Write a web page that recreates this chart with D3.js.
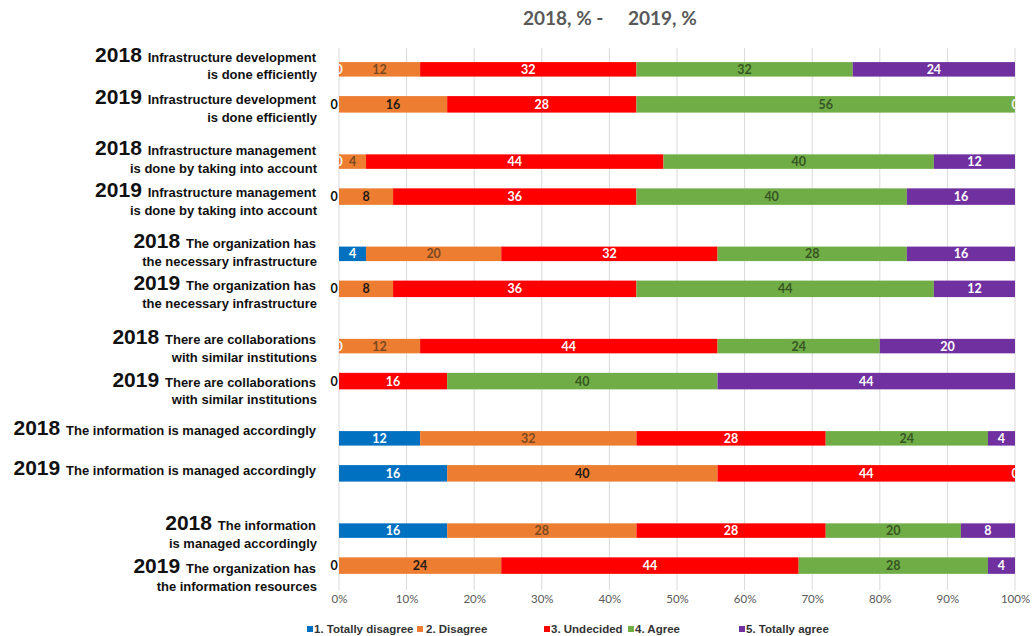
<!DOCTYPE html>
<html>
<head>
<meta charset="utf-8">
<script src="https://cdn.jsdelivr.net/npm/d3@7"></script>
<style>
  html, body { margin: 0; padding: 0; background: #fff; }
  svg { display: block; }
</style>
</head>
<body>
<svg id="chart" width="1032" height="636"></svg>
<script>
// ---------------- DATA ----------------
const categories = ["1. Totally disagree", "2. Disagree", "3. Undecided", "4. Agree", "5. Totally agree"];
const groups = ["Infrastructure development", "Infrastructure management", "Necessary infrastructure",
                "Collaborations", "Information managed", "Information resources"];
const years = ["2018", "2019", "2018", "2019", "2018", "2019", "2018", "2019", "2018", "2019", "2018", "2019"];
const statementLines = [
  ["Infrastructure development", "is done efficiently"],
  ["Infrastructure development", "is done efficiently"],
  ["Infrastructure management", "is done by taking into account"],
  ["Infrastructure management", "is done by taking into account"],
  ["The organization has", "the necessary infrastructure"],
  ["The organization has", "the necessary infrastructure"],
  ["There are collaborations", "with similar institutions"],
  ["There are collaborations", "with similar institutions"],
  ["The information is managed accordingly"],
  ["The information is managed accordingly"],
  ["The information", "is managed accordingly"],
  ["The organization has", "the information resources"]
];
const totallyDisagree = [0, 0, 0, 0, 4, 0, 0, 0, 12, 16, 16, 0];
const disagree        = [12, 16, 4, 8, 20, 8, 12, 0, 32, 40, 28, 24];
const undecided       = [32, 28, 44, 36, 32, 36, 44, 16, 28, 44, 28, 44];
const agree           = [32, 56, 40, 40, 28, 44, 24, 40, 24, 0, 20, 28];
const totallyAgree    = [24, 0, 12, 16, 16, 12, 20, 44, 4, 0, 8, 4];
const tickValues = [0, 10, 20, 30, 40, 50, 60, 70, 80, 90, 100];
const titleParts = ["2018, % -", "2019, %"];

// ---------------- LAYOUT / STYLE ----------------
const colors = ["#0070C0", "#ED7D31", "#FF0000", "#70AD47", "#7030A0"];
const labelNudge = [-7.6, -0.4, -6.6, 0.7, -5.6, 1.2, -2.1, 5.6, -3.4, 1.6, -0.6, 7.4];
const seriesValues = [totallyDisagree, disagree, undecided, agree, totallyAgree];

const svg = d3.select("#chart");
const x = d3.scaleLinear().domain([0, 100]).range([339, 1015]);
const yGroup = d3.scaleBand().domain(groups).range([40.725, 594.225]);
const yInner = d3.scalePoint().domain(["2018", "2019"]).range([0, yGroup.bandwidth()]).padding(0.8178);
const rowCenter = i => yGroup(groups[Math.floor(i / 2)]) + yInner(years[i]);
const barH = yr => yr === "2018" ? 14.5 : 16.5;

// clip for plot area
svg.append("defs").append("clipPath").attr("id", "plotClip")
  .append("rect").attr("x", x(0)).attr("y", 0).attr("width", x(100) - x(0)).attr("height", 636);

// gridlines
svg.append("g").selectAll("line").data(tickValues).join("line")
  .attr("x1", d => x(d)).attr("x2", d => x(d))
  .attr("y1", 48).attr("y2", 590)
  .attr("stroke", "#d9d9d9").attr("stroke-width", 1);

// axis tick labels
const axis = d3.axisBottom(x).tickValues(tickValues).tickFormat(d => d + "%").tickSize(0).tickPadding(0);
const axG = svg.append("g").attr("transform", "translate(0,590)").call(axis);
axG.select(".domain").remove();
axG.selectAll("text").attr("dy", "0.71em").attr("y", 5)
  .attr("font-family", "Lato, 'Open Sans', sans-serif").attr("font-size", 11.5).attr("fill", "#595959");

// stacked data
const rows = years.map((yr, i) => {
  let cum = 0;
  return seriesValues.map((vals, s) => {
    const v = vals[i];
    const seg = { row: i, year: yr, s, v, x0: cum, x1: cum + v };
    cum += v;
    return seg;
  });
});
const segs = rows.flat();

// bars
svg.append("g").selectAll("rect").data(segs.filter(d => d.v > 0)).join("rect")
  .attr("x", d => x(d.x0))
  .attr("width", d => x(d.x1) - x(d.x0))
  .attr("y", d => rowCenter(d.row) - barH(d.year) / 2)
  .attr("height", d => barH(d.year))
  .attr("fill", d => colors[d.s]);

// value labels
function labelColor(d) {
  if (d.s === 1) return d.year === "2018" ? "#7a4a22" : "#1e1a16";
  if (d.s === 3) return "#375623";
  return "#ffffff";
}
const labelFont = "Lato, 'Open Sans', sans-serif";
const inner = segs.filter(d => d.v > 0);
svg.append("g").selectAll("text").data(inner).join("text")
  .attr("x", d => x((d.x0 + d.x1) / 2))
  .attr("y", d => rowCenter(d.row))
  .attr("dy", "0.36em")
  .attr("text-anchor", "middle")
  .attr("font-family", labelFont).attr("font-weight", "bold").attr("font-size", 12.5)
  .attr("fill", labelColor)
  .text(d => d.v);

// zero labels
const zeroLead2019 = segs.filter(d => d.v === 0 && d.x0 === 0 && d.year === "2019" && d.s === 0);
svg.append("g").selectAll("text").data(zeroLead2019).join("text")
  .attr("x", d => x(0) - 5)
  .attr("y", d => rowCenter(d.row))
  .attr("dy", "0.36em").attr("text-anchor", "middle")
  .attr("font-family", labelFont).attr("font-weight", "bold").attr("font-size", 12.5)
  .attr("fill", "#111").text("0");
const zeroClipped = segs.filter(d => d.v === 0 && !(d.x0 === 0 && d.year === "2019") && (d.x0 === 0 ? d.s === 0 : d.s === 4));
svg.append("g").attr("clip-path", "url(#plotClip)").selectAll("text").data(zeroClipped).join("text")
  .attr("x", d => x(d.x0))
  .attr("y", d => rowCenter(d.row))
  .attr("dy", "0.36em").attr("text-anchor", "middle")
  .attr("font-family", labelFont).attr("font-weight", "bold").attr("font-size", 12.5)
  .attr("fill", "#f4f4f4").text("0");

// left category labels
const lbl = svg.append("g").attr("font-family", "'Liberation Sans', Arial, sans-serif").attr("font-weight", "bold").attr("fill", "#111");
years.forEach((yr, i) => {
  const base = rowCenter(i) + labelNudge[i];
  const lines = statementLines[i];
  const t1 = lbl.append("text").attr("x", 316).attr("y", base).attr("text-anchor", "end");
  t1.append("tspan").attr("font-size", 21).text(yr + " ");
  t1.append("tspan").attr("font-size", 13).text(lines[0]);
  if (lines[1]) {
    lbl.append("text").attr("x", 317).attr("y", base + 17.7).attr("text-anchor", "end")
      .attr("font-size", 13).text(lines[1]);
  }
});

// title
const title = svg.append("g").attr("font-family", "Lato, 'Open Sans', sans-serif").attr("font-weight", "bold")
  .attr("font-size", 19).attr("fill", "#595959");
title.append("text").attr("x", 523).attr("y", 25).text(titleParts[0]);
title.append("text").attr("x", 628).attr("y", 25).text(titleParts[1]);

// legend
const legendX = [307, 417, 544, 628, 739];
const leg = svg.append("g").selectAll("g").data(categories).join("g")
  .attr("transform", (d, i) => `translate(${legendX[i]},629)`);
leg.append("rect").attr("x", 0).attr("y", -3).attr("width", 6).attr("height", 6)
  .attr("fill", (d, i) => colors[i]);
leg.append("text").attr("x", (d, i) => i === 1 ? 9 : 7).attr("y", 0).attr("dy", "0.35em")
  .attr("font-family", "'Liberation Sans', Arial, sans-serif").attr("font-weight", "bold")
  .attr("font-size", 11.5).attr("fill", "#333").text(d => d);
</script>
</body>
</html>
